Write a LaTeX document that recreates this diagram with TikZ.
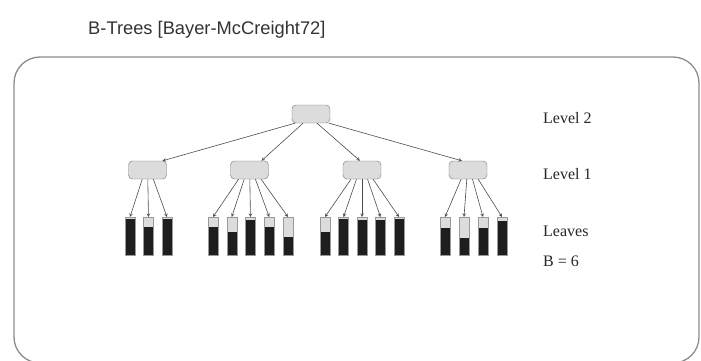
\documentclass[tikz,border=0pt]{standalone}
\usepackage{fontspec}
\setmainfont{Liberation Serif}
\newfontfamily\titlefont{Liberation Sans}
\usetikzlibrary{calc}
\definecolor{boxgray}{HTML}{DCDCDC}
\definecolor{leafdark}{HTML}{1E1E1E}

\begin{document}
\begin{tikzpicture}[
  x=1pt,y=-1pt,
  inner node/.style={draw=black!55,fill=boxgray,rounded corners=4pt,minimum width=38pt,minimum height=18pt,inner sep=0pt},
  leaf/.style={draw=black!40,fill=leafdark,minimum width=10pt,minimum height=38pt,inner sep=0pt,anchor=north,
    path picture={\fill[boxgray] (path picture bounding box.north west) rectangle ($(path picture bounding box.north east)!#1!(path picture bounding box.south east)$);}},
  link/.style={->,>=stealth,draw=black!70,line width=0.6pt},
  level label/.style={anchor=west,inner sep=0pt,text=black!85,font=\fontsize{16}{18}\selectfont}
]
  \useasboundingbox (0,0) rectangle (701,361);
  \draw[black!45,line width=1.3pt,rounded corners=26pt] (14,57) rectangle (699,363);

  \node[anchor=base west,inner sep=0pt,text=black!80,font=\titlefont\fontsize{18.3}{20}\selectfont] (title) at (88,35) {B-Trees [Bayer-McCreight72]};

  \node[inner node] (root) at (311,114) {};
  \node[inner node] (n1) at (147.5,170) {};
  \node[inner node] (n2) at (249.5,170) {};
  \node[inner node] (n3) at (362,170) {};
  \node[inner node] (n4) at (468,170) {};

  \draw[link] ([xshift=-16pt]root.south) -- ([xshift=15pt]n1.north);
  \draw[link] ([xshift=-8pt]root.south) -- ([xshift=12pt]n2.north);
  \draw[link] ([xshift=6pt]root.south) -- ([xshift=-2pt]n3.north);
  \draw[link] ([xshift=18pt]root.south) -- ([xshift=-6pt]n4.north);

  % leaves, grey part = free room
  \foreach \x/\f [count=\i] in {130/0.04,148.5/0.27,167/0.04}{
    \node[leaf=\f] (a\i) at (\x,217) {};
    \draw[link] ($(n1.south)!0.3!(n1.south -| a\i.north)$) -- (a\i.north);
  }
  \foreach \x/\f [count=\i] in {213/0.25,231.75/0.4,250.5/0.08,269.25/0.25,288/0.52}{
    \node[leaf=\f] (b\i) at (\x,217) {};
    \draw[link] ($(n2.south)!0.3!(n2.south -| b\i.north)$) -- (b\i.north);
  }
  \foreach \x/\f [count=\i] in {325/0.4,343.5/0.04,362/0.08,380.5/0.08,399/0.04}{
    \node[leaf=\f] (c\i) at (\x,217) {};
    \draw[link] ($(n3.south)!0.3!(n3.south -| c\i.north)$) -- (c\i.north);
  }
  \foreach \x/\f [count=\i] in {445/0.28,464/0.55,483/0.28,502/0.1}{
    \node[leaf=\f] (d\i) at (\x,217) {};
    \draw[link] ($(n4.south)!0.3!(n4.south -| d\i.north)$) -- (d\i.north);
  }

  \node[level label] (lv2) at (543,118) {Level 2};
  \node[level label] (lv1) at (543,174) {Level 1};
  \node[level label] (lvl) at (543,231) {Leaves};
  \node[level label] (bsz) at (543,261) {B = 6};
\end{tikzpicture}
\end{document}
